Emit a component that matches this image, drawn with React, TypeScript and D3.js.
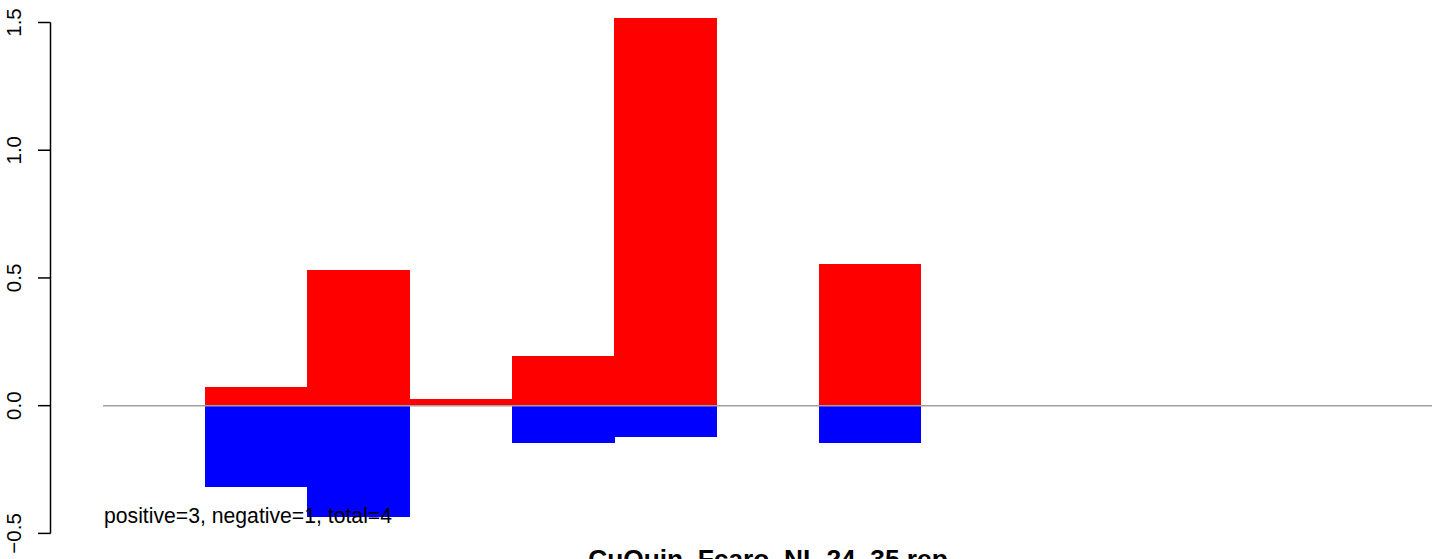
import React from "react";
import * as d3 from "d3";

const bins: number[] = [1, 2, 3, 4, 5, 7];
const positiveValues: number[] = [0.073, 0.531, 0.026, 0.195, 1.517, 0.555];
const negativeValues: number[] = [-0.317, -0.434, 0, -0.145, -0.121, -0.145];
const yTicks: number[] = [-0.5, 0, 0.5, 1, 1.5];
const yTickLabels: string[] = ["\u22120.5", "0.0", "0.5", "1.0", "1.5"];
const binCount = 13;
const title = "CuQuin_Fcaro_NL.24_35.rep";
const note = "positive=3, negative=1, total=4";

const W = 1444;
const H = 559;
const FONT = "'Liberation Sans', Arial, Helvetica, sans-serif";

export default function App() {
  const x = d3.scaleLinear().domain([0, binCount]).range([103, 1432]);
  const y = d3.scaleLinear().domain([-0.5, 1.5]).range([533.4, 22.5]);
  const y0 = y(0);

  return (
    <svg
      width={W}
      height={H}
      style={{ position: "absolute", left: 0, top: 0, background: "#fff" }}
      fontFamily={FONT}
    >
      <rect x={0} y={0} width={W} height={H} fill="#fff" />
      {bins.map((b, i) => (
        <rect
          key={"p" + i}
          x={x(b)}
          y={y(positiveValues[i])}
          width={x(b + 1) - x(b) + 0.5}
          height={y0 - y(positiveValues[i])}
          fill="#ff0000"
          shapeRendering="crispEdges"
        />
      ))}
      {bins.map((b, i) =>
        negativeValues[i] < 0 ? (
          <rect
            key={"n" + i}
            x={x(b)}
            y={y0}
            width={x(b + 1) - x(b) + 0.5}
            height={y(negativeValues[i]) - y0}
            fill="#0000ff"
            shapeRendering="crispEdges"
          />
        ) : null
      )}
      <line x1={x(0)} x2={x(binCount)} y1={y0} y2={y0} stroke="#a0a0a0" strokeWidth={1.5} />
      {/* y axis */}
      <line x1={50.5} x2={50.5} y1={y(1.5)} y2={y(-0.5)} stroke="#000" strokeWidth={1.5} />
      {yTicks.map((t, i) => (
        <g key={"t" + i}>
          <line x1={38} x2={50.5} y1={y(t)} y2={y(t)} stroke="#000" strokeWidth={1.5} />
          <text
            transform={`translate(20.5,${y(t)}) rotate(-90)`}
            textAnchor="middle"
            fontSize={20.5}
            fill="#000"
          >
            {yTickLabels[i]}
          </text>
        </g>
      ))}
      <text x={104} y={522.7} fontSize={21.2} fill="#000">
        {note}
      </text>
      <text x={768} y={568} fontSize={26.3} fontWeight="bold" textAnchor="middle" fill="#000">
        {title}
      </text>
    </svg>
  );
}
